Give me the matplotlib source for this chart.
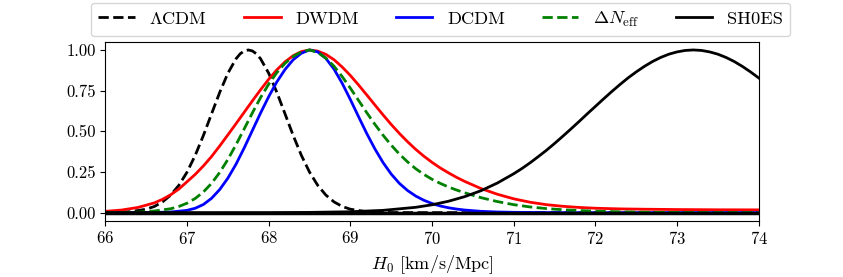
import matplotlib
matplotlib.use("Agg")
import matplotlib.pyplot as plt

plt.rcParams["font.family"] = "cmr10"
plt.rcParams["mathtext.fontset"] = "cm"
plt.rcParams["axes.formatter.use_mathtext"] = True
plt.rcParams["axes.unicode_minus"] = False

# posterior curves (normalised to peak = 1)
lcdm_h0 = [66.0, 66.3, 66.5, 66.6, 66.7, 66.8, 66.9, 67.0, 67.1, 67.2, 67.3, 67.4,
           67.5, 67.6, 67.65, 67.7, 67.75, 67.8, 67.85, 67.9, 68.0, 68.1, 68.2,
           68.3, 68.4, 68.5, 68.6, 68.7, 68.8, 68.9, 69.0, 69.2, 69.5, 70.0, 74.0]
lcdm_p = [0.0005, 0.0056, 0.021, 0.038, 0.066, 0.108, 0.168, 0.249, 0.352, 0.474,
          0.607, 0.739, 0.857, 0.946, 0.976, 0.994, 1.0, 0.994, 0.976, 0.946,
          0.857, 0.739, 0.607, 0.474, 0.352, 0.249, 0.168, 0.108, 0.066, 0.038,
          0.021, 0.0056, 0.0005, 0.0, 0.0]

dwdm_h0 = [66.0, 66.2, 66.4, 66.6, 66.7, 66.8, 66.9, 67.0, 67.1, 67.2, 67.3, 67.4,
           67.5, 67.6, 67.7, 67.8, 67.9, 68.0, 68.1, 68.2, 68.3, 68.4, 68.5, 68.6,
           68.7, 68.8, 68.9, 69.0, 69.1, 69.2, 69.3, 69.4, 69.5, 69.6, 69.7, 69.8,
           69.9, 70.0, 70.1, 70.2, 70.3, 70.4, 70.6, 70.8, 71.0, 71.2, 71.4, 71.6,
           71.8, 72.0, 72.3, 72.6, 73.0, 73.5, 74.0]
dwdm_p = [0.008, 0.016, 0.032, 0.06, 0.082, 0.11, 0.145, 0.19, 0.235, 0.287, 0.345,
          0.41, 0.478, 0.547, 0.617, 0.687, 0.755, 0.82, 0.878, 0.927, 0.965, 0.99,
          1.0, 0.993, 0.973, 0.94, 0.895, 0.843, 0.785, 0.724, 0.662, 0.601, 0.542,
          0.487, 0.436, 0.389, 0.347, 0.309, 0.275, 0.245, 0.217, 0.192, 0.148,
          0.113, 0.085, 0.064, 0.049, 0.039, 0.032, 0.027, 0.023, 0.021, 0.019,
          0.0175, 0.017]

dcdm_h0 = [66.0, 66.6, 66.8, 67.0, 67.1, 67.2, 67.3, 67.4, 67.5, 67.6, 67.7, 67.8,
           67.9, 68.0, 68.1, 68.2, 68.3, 68.4, 68.5, 68.6, 68.7, 68.8, 68.9, 69.0,
           69.1, 69.2, 69.3, 69.4, 69.5, 69.6, 69.7, 69.8, 69.9, 70.0, 70.1, 70.2,
           70.3, 70.4, 70.6, 70.8, 71.0, 71.5, 74.0]
dcdm_p = [0.0, 0.001, 0.004, 0.014, 0.027, 0.05, 0.088, 0.142, 0.212, 0.298, 0.398,
          0.505, 0.612, 0.713, 0.804, 0.88, 0.94, 0.98, 1.0, 0.988, 0.948, 0.882,
          0.795, 0.695, 0.59, 0.487, 0.392, 0.308, 0.237, 0.18, 0.136, 0.102, 0.076,
          0.056, 0.041, 0.03, 0.022, 0.016, 0.008, 0.004, 0.002, 0.0, 0.0]

dneff_h0 = [66.0, 66.4, 66.6, 66.8, 66.9, 67.0, 67.1, 67.2, 67.3, 67.4, 67.5, 67.6,
            67.7, 67.8, 67.9, 68.0, 68.1, 68.2, 68.3, 68.4, 68.5, 68.6, 68.7, 68.8,
            68.9, 69.0, 69.1, 69.2, 69.3, 69.4, 69.5, 69.6, 69.7, 69.8, 69.9, 70.0,
            70.1, 70.2, 70.3, 70.4, 70.6, 70.8, 71.0, 71.2, 71.4, 71.6, 71.8, 72.0,
            72.3, 72.6, 73.0, 74.0]
dneff_p = [0.0, 0.003, 0.01, 0.024, 0.038, 0.058, 0.087, 0.127, 0.18, 0.247, 0.327,
           0.418, 0.515, 0.613, 0.707, 0.79, 0.861, 0.918, 0.96, 0.988, 1.0, 0.985,
           0.95, 0.9, 0.836, 0.765, 0.69, 0.615, 0.543, 0.476, 0.415, 0.36, 0.312,
           0.27, 0.235, 0.205, 0.18, 0.158, 0.139, 0.122, 0.092, 0.068, 0.049,
           0.035, 0.025, 0.018, 0.013, 0.009, 0.005, 0.0025, 0.001, 0.0]

shoes_h0 = [66.0, 67.0, 68.0, 68.5, 69.0, 69.4, 69.8, 70.0, 70.2, 70.4, 70.6, 70.8,
            71.0, 71.1, 71.2, 71.3, 71.4, 71.5, 71.6, 71.7, 71.8, 71.9, 72.0, 72.1,
            72.2, 72.3, 72.4, 72.5, 72.6, 72.7, 72.8, 72.9, 73.0, 73.1, 73.2, 73.3,
            73.4, 73.5, 73.6, 73.7, 73.8, 73.9, 74.0]
shoes_p = [0.0, 0.0, 0.0003, 0.0015, 0.0054, 0.014, 0.0327, 0.0483, 0.0698, 0.0983,
           0.135, 0.182, 0.239, 0.271, 0.306, 0.344, 0.383, 0.425, 0.469, 0.514,
           0.560, 0.607, 0.653, 0.699, 0.744, 0.787, 0.828, 0.865, 0.899, 0.929,
           0.954, 0.974, 0.988, 0.997, 1.0, 0.997, 0.988, 0.974, 0.954, 0.929,
           0.899, 0.865, 0.828]

x_ticks = [66, 67, 68, 69, 70, 71, 72, 73, 74]
y_ticks = [0.0, 0.25, 0.5, 0.75, 1.0]
y_labels = ["0.00", "0.25", "0.50", "0.75", "1.00"]

fig = plt.figure(figsize=(8.43, 2.77), dpi=100)
ax = fig.add_axes([0.125, 0.203, 0.775, 0.646])

ax.plot(lcdm_h0, lcdm_p, "k--", lw=2, label=r"$\Lambda$CDM")
ax.plot(dwdm_h0, dwdm_p, "r-", lw=2, label="DWDM")
ax.plot(dcdm_h0, dcdm_p, "b-", lw=2, label="DCDM")
ax.plot(dneff_h0, dneff_p, "g--", lw=2, label=r"$\Delta N_{\rm eff}$")
ax.axhline(0.0, color="k", lw=2.5)
ax.plot(shoes_h0, shoes_p, "k-", lw=2, label="SH0ES")

ax.set_xlim(66, 74)
ax.set_ylim(-0.05, 1.05)
ax.set_xticks(x_ticks)
ax.set_yticks(y_ticks)
ax.set_yticklabels(y_labels)
ax.tick_params(labelsize=12)
ax.set_xlabel(r"$H_0$ [km/s/Mpc]", fontsize=13)

ax.legend(loc="lower center", bbox_to_anchor=(0.513, 1.0), ncol=5,
          fontsize=13.2, borderaxespad=0.3)

fig.savefig("out.png", dpi=100)
